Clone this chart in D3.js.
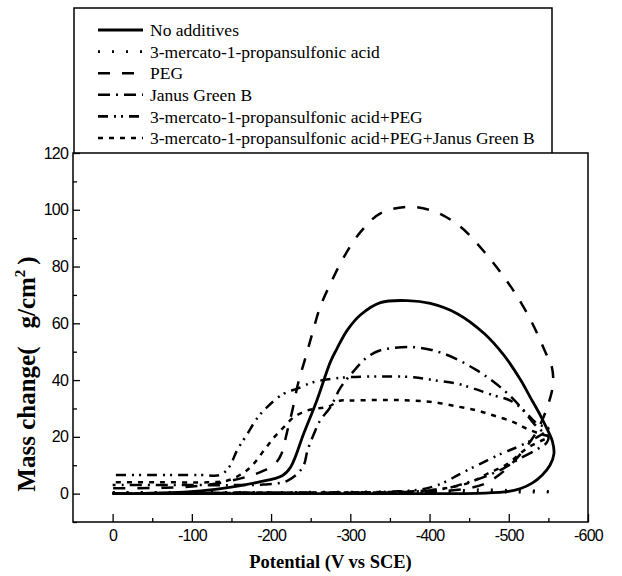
<!DOCTYPE html>
<html>
<head>
<meta charset="utf-8">
<script src="https://cdn.jsdelivr.net/npm/d3@7/dist/d3.min.js"></script>
<style>
  body { margin: 0; background: #fff; }
  .tick text { font-family: "Liberation Sans", Arial, sans-serif; font-size: 16px; letter-spacing: -0.8px; fill: #000; }
  .tick line { stroke: #000; stroke-width: 1.3; }
</style>
</head>
<body>
<script>
// potential (mV vs SCE) and mass change pairs, loop goes out on the lower branch and back on the upper one
let noAdditives = [[0,0],[-100,0],[-200,0],[-300,0],[-400,0],[-470,0.2],[-500,0.8],[-515,1.8],[-530,3.8],[-542,6.5],[-552,10],[-557,14],
  [-555,18.5],[-548,23],[-540,27.5],[-527,34],[-515,40],[-494,48.7],[-469,56.4],[-435,63.4],[-401,67],[-372,68],[-338,67.3],
  [-313,63],[-296,57.5],[-283,51],[-275,46.5],[-258,33],[-241,21],[-225,9.5],[-214,6.3],[-183,4],[-132,1.6],[-90,0.5],[-40,0.1],[0,0]];

let mps = [[0,0.3],[-100,0.3],[-200,0.3],[-300,0.4],[-400,0.4],[-500,0.5],[-540,0.5],[-558,0.6],
  [-540,0.9],[-500,1.2],[-460,1.4],[-430,1],[-380,0.7],[-300,0.6],[-200,0.5],[-100,0.5],[0,0.5]];

let peg = [[0,0],[-100,0.2],[-200,0.3],[-300,0.3],[-400,0.6],[-430,1.2],[-452,2],[-470,3.5],[-485,6],[-500,9.5],[-515,14],
  [-530,19.5],[-540,24.5],[-551,32.5],[-556,39],[-554,45],[-546,50],[-532,58.7],[-515,67.5],[-494,76.3],[-469,85.2],[-439,94],
  [-405,99.5],[-372,101],[-338,98.7],[-313,92.2],[-292,83.4],[-275,74],[-262,65.8],[-252,56.4],[-243,47.5],[-234,38.7],
  [-227,29.5],[-220,21.5],[-213,14],[-205,10.5],[-190,8],[-170,6],[-140,4],[-100,2.5],[-50,2],[0,1.9]];

let janus = [[0,0],[-100,0.2],[-200,0.3],[-300,0.3],[-380,0.7],[-420,1.8],[-443,3.5],[-470,6],[-494,9],[-515,12.5],[-535,15.5],
  [-548,18],[-550,20],[-544,21.5],[-532,24.6],[-515,30.5],[-494,36.4],[-460,43.4],[-418,49.3],[-380,51.6],[-338,50.5],
  [-321,48],[-305,43.4],[-288,37.5],[-275,30.5],[-262,25.8],[-254,21],[-246,15.2],[-240,9.3],[-221,4.6],[-190,3.2],
  [-150,3],[-100,3],[-50,3],[0,3]];

let mpsPeg = [[0,0],[-100,0.2],[-200,0.3],[-300,0.4],[-360,0.8],[-390,1.5],[-414,3.4],[-439,7],[-464,10.5],[-490,14],
  [-510,16.3],[-530,19],[-545,21.5],[-550,23],[-536,24.6],[-519,29.3],[-502,32.8],[-481,34.6],[-456,37],[-435,38.7],
  [-405,40],[-380,41],[-338,41.3],[-296,41],[-279,40.5],[-254,39.3],[-233,37],[-216,35.2],[-195,30.5],[-182,26.4],
  [-170,21],[-157,15.2],[-147,9.3],[-136,6.6],[-110,6.6],[-50,6.6],[0,6.6]];

let mpsPegJgb = [[0,0],[-100,0.2],[-200,0.3],[-300,0.4],[-380,0.8],[-410,1.5],[-427,2.2],[-452,4],[-473,7],[-498,10.4],
  [-523,16],[-540,18.5],[-550,20],[-540,21],[-523,22.8],[-506,25.2],[-481,27.5],[-460,29.3],[-435,30.7],[-405,32.2],
  [-376,32.8],[-346,33],[-300,32.8],[-288,32.8],[-271,30.5],[-258,30],[-246,29.3],[-229,27],[-216,23.4],[-204,19.9],
  [-191,15.2],[-178,10.5],[-166,7.5],[-145,4.6],[-120,4],[-60,4],[0,4]];

let names = ["No additives", "3-mercato-1-propansulfonic acid", "PEG", "Janus Green B",
  "3-mercato-1-propansulfonic acid+PEG", "3-mercato-1-propansulfonic acid+PEG+Janus Green B"];
let curves = [noAdditives, mps, peg, janus, mpsPeg, mpsPegJgb];
let dashes = [null, "2,12", "12,12", "12,6,2,6", "10,6,2,5,2,6", "5,6"];

let xTicks = [0, -100, -200, -300, -400, -500, -600];
let xMinor = [-50, -150, -250, -350, -450, -550];
let yTicks = [0, 20, 40, 60, 80, 100, 120];
let yMinor = [-10, 10, 30, 50, 70, 90, 110];

let plotLeft = 73, plotRight = 588, plotTop = 153, plotBottom = 522;
let serif = "'Liberation Serif', 'Times New Roman', Times, serif";

let svg = d3.select("body").append("svg")
    .attr("width", 622)
    .attr("height", 576);

let x = d3.scaleLinear().domain([50, -600]).range([plotLeft, plotRight]);
let y = d3.scaleLinear().domain([-10, 120]).range([plotBottom, plotTop]);

// legend box sits on top of the plot frame
svg.append("path")
  .attr("d", "M74,153V8H552V153")
  .attr("fill", "none")
  .attr("stroke", "#000")
  .attr("stroke-width", 1.5);

let legend = svg.selectAll(".legend")
  .data(names)
.enter().append("g")
  .attr("class", "legend")
  .attr("transform", (d, i) => "translate(0," + (30 + i*21.6) + ")");

legend.append("line")
  .attr("x1", 98).attr("x2", 143)
  .attr("stroke", "#000")
  .attr("stroke-width", (d, i) => i == 0 ? 3 : 2.6)
  .attr("stroke-dasharray", (d, i) => dashes[i]);

legend.append("text")
  .attr("x", 150)
  .attr("dy", "0.35em")
  .style("font-family", serif)
  .style("font-size", "17.5px")
  .text(d => d);

// axes
svg.append("g")
  .attr("transform", "translate(" + plotLeft + ",0)")
  .call(d3.axisLeft(y).tickValues(yTicks).tickSize(-7).tickPadding(5))
  .call(g => g.select(".domain").remove());

svg.append("g")
  .attr("transform", "translate(" + plotLeft + ",0)")
  .call(d3.axisLeft(y).tickValues(yMinor).tickSize(-4).tickFormat(""))
  .call(g => g.select(".domain").remove());

svg.append("g")
  .attr("transform", "translate(0," + plotBottom + ")")
  .call(d3.axisBottom(x).tickValues(xTicks).tickSize(-8).tickPadding(8).tickFormat(d => String(d)))
  .call(g => g.select(".domain").remove());

svg.append("g")
  .attr("transform", "translate(0," + plotBottom + ")")
  .call(d3.axisBottom(x).tickValues(xMinor).tickSize(-4).tickFormat(""))
  .call(g => g.select(".domain").remove());

svg.append("rect")
  .attr("x", plotLeft).attr("y", plotTop)
  .attr("width", plotRight - plotLeft).attr("height", plotBottom - plotTop)
  .attr("fill", "none")
  .attr("stroke", "#000")
  .attr("stroke-width", 1.5);

// curves
let line = d3.line()
  .x(d => x(d[0]))
  .y(d => y(d[1]))
  .curve(d3.curveCatmullRom.alpha(0.5));

svg.selectAll(".curve")
  .data(curves)
.enter().append("path")
  .attr("class", "curve")
  .attr("d", line)
  .attr("fill", "none")
  .attr("stroke", "#000")
  .attr("stroke-width", (d, i) => i == 0 ? 2.8 : 2.5)
  .attr("stroke-dasharray", (d, i) => dashes[i]);

// titles
svg.append("text")
  .attr("x", (plotLeft + plotRight) / 2)
  .attr("y", 568)
  .style("text-anchor", "middle")
  .style("font-family", serif)
  .style("font-weight", "bold")
  .style("font-size", "18.5px")
  .text("Potential (V vs SCE)");

let yt = svg.append("text")
  .attr("transform", "translate(35,374) rotate(-90)")
  .style("text-anchor", "middle")
  .style("font-family", serif)
  .style("font-weight", "bold")
  .style("font-size", "25px");
yt.append("tspan").text("Mass change(");
yt.append("tspan").attr("dx", 18).text("g/cm");
yt.append("tspan").attr("dy", -10).style("font-size", "15px").text("2");
yt.append("tspan").attr("dy", 10).attr("dx", 5).text(")");
</script>
</body>
</html>
